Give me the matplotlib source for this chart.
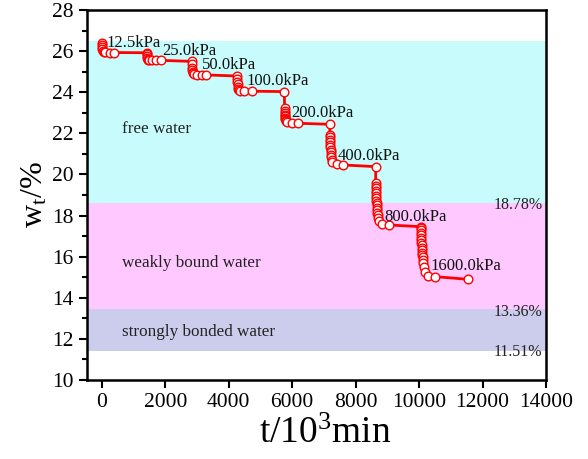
import matplotlib
matplotlib.use("Agg")
import matplotlib.pyplot as plt

plt.rcParams['font.family'] = ['Liberation Serif', 'DejaVu Serif']
plt.rcParams['mathtext.fontset'] = 'custom'
plt.rcParams['mathtext.rm'] = 'Liberation Serif'
plt.rcParams['mathtext.it'] = 'Liberation Serif:italic'

# ---- data ----
t_12_5 = [0, 3, 8, 15, 30, 60, 100, 250, 380, 1410]
w_12_5 = [26.38, 26.28, 26.18, 26.08, 26.00, 25.96, 25.94, 25.93, 25.93, 25.92]
t_25 = [1415, 1420, 1428, 1440, 1460, 1500, 1570, 1710, 1855, 2835]
w_25 = [25.85, 25.76, 25.68, 25.62, 25.59, 25.57, 25.56, 25.56, 25.55, 25.50]
t_50 = [2840, 2845, 2852, 2860, 2875, 2890, 2990, 3150, 3290, 4256]
w_50 = [25.35, 25.20, 25.08, 24.98, 24.92, 24.88, 24.86, 24.85, 24.84, 24.79]
t_100 = [4262, 4268, 4275, 4285, 4300, 4320, 4360, 4490, 4730, 5752]
w_100 = [24.65, 24.50, 24.38, 24.27, 24.18, 24.12, 24.08, 24.06, 24.05, 24.03]
t_200 = [5757, 5760, 5763, 5767, 5772, 5778, 5785, 5795, 5810, 5837, 5995, 6172, 7184]
w_200 = [23.22, 23.10, 23.00, 22.90, 22.82, 22.75, 22.69, 22.63, 22.58, 22.53, 22.50, 22.49, 22.44]
t_400 = [7188, 7190, 7193, 7196, 7200, 7204, 7208, 7213, 7220, 7230, 7245, 7260, 7418, 7608, 8628]
w_400 = [21.92, 21.80, 21.68, 21.56, 21.44, 21.32, 21.20, 21.08, 20.96, 20.84, 20.72, 20.60, 20.50, 20.46, 20.38]
t_800 = [8632, 8634, 8637, 8640, 8643, 8646, 8650, 8654, 8658, 8663, 8668, 8675, 8683, 8693,
         8705, 8733, 8818, 9049, 10050]
w_800 = [19.57, 19.45, 19.33, 19.21, 19.09, 18.97, 18.85, 18.73, 18.61, 18.49, 18.37, 18.25, 18.13, 18.01,
         17.89, 17.72, 17.60, 17.54, 17.46]
t_1600 = [10055, 10057, 10060, 10063, 10066, 10070, 10074, 10078, 10083, 10088, 10094, 10100, 10108,
          10117, 10128, 10145, 10187, 10282, 10493, 11526]
w_1600 = [17.40, 17.28, 17.16, 17.04, 16.92, 16.80, 16.68, 16.56, 16.44, 16.32, 16.20, 16.08, 15.96,
          15.84, 15.70, 15.50, 15.25, 15.08, 15.03, 14.90]

stage_labels = ['12.5kPa', '25.0kPa', '50.0kPa', '100.0kPa', '200.0kPa', '400.0kPa', '800.0kPa', '1600.0kPa']
label_t = [150, 1890, 3150, 4570, 5960, 7420, 8913, 10367]
label_w = [26.40, 26.00, 25.32, 24.56, 22.97, 20.90, 17.91, 15.55]

band_edges = [11.42, 13.43, 18.61, 26.50]
band_colors = ['#CCCCEC', '#FFC8FF', '#C8FCFC']
band_names = ['strongly bonded water', 'weakly bound water', 'free water']
band_name_w = [12.33, 15.70, 22.20]
limit_labels = ['11.51%', '13.36%', '18.78%']
limit_label_w = [11.34, 13.32, 18.52]

t_all = t_12_5 + t_25 + t_50 + t_100 + t_200 + t_400 + t_800 + t_1600
w_all = w_12_5 + w_25 + w_50 + w_100 + w_200 + w_400 + w_800 + w_1600

# ---- figure ----
fig = plt.figure(figsize=(5.88, 4.59), dpi=100)
ax = fig.add_axes([87/588, 1-380/459, (546-87)/588, (380-10)/459])

for i in range(3):
    ax.axhspan(band_edges[i], band_edges[i+1], color=band_colors[i], lw=0, zorder=0)
    ax.text(630, band_name_w[i], band_names[i], fontsize=12.3, ha='left', va='center', color='#222222')
    ax.text(13890, limit_label_w[i], limit_labels[i], fontsize=11.5, ha='right', va='center', color='#222222')

ax.plot(t_all, w_all, '-', color='#FF0000', lw=2.0, marker='o', markersize=6.2,
        markerfacecolor='white', markeredgecolor='#FF0000', markeredgewidth=1.0, zorder=3)

for s, tx, wy in zip(stage_labels, label_t, label_w):
    ax.text(tx, wy, s, fontsize=12, ha='left', va='center', color='#111111', zorder=4)

ax.set_xlim(-470, 14000)
ax.set_ylim(10, 28)
ax.set_xticks(range(0, 14001, 2000))
ax.set_yticks(range(10, 29, 2))
ax.set_yticks(range(11, 28, 2), minor=True)
ax.tick_params(axis='both', which='major', direction='out', length=6, width=1.5, labelsize=15.5)
ax.tick_params(axis='y', which='minor', direction='out', length=3.5, width=1.5)
ax.tick_params(top=False, right=False)
for sp in ax.spines.values():
    sp.set_linewidth(1.8)

ax.set_xlabel(r'$\mathrm{t/10^{3}min}$', fontsize=27, labelpad=3)
ax.xaxis.label.set_x(0.52)
ax.set_ylabel(r'$\mathrm{w_{t}/\%}$', fontsize=23, labelpad=2)

fig.savefig('out.png', dpi=100)
